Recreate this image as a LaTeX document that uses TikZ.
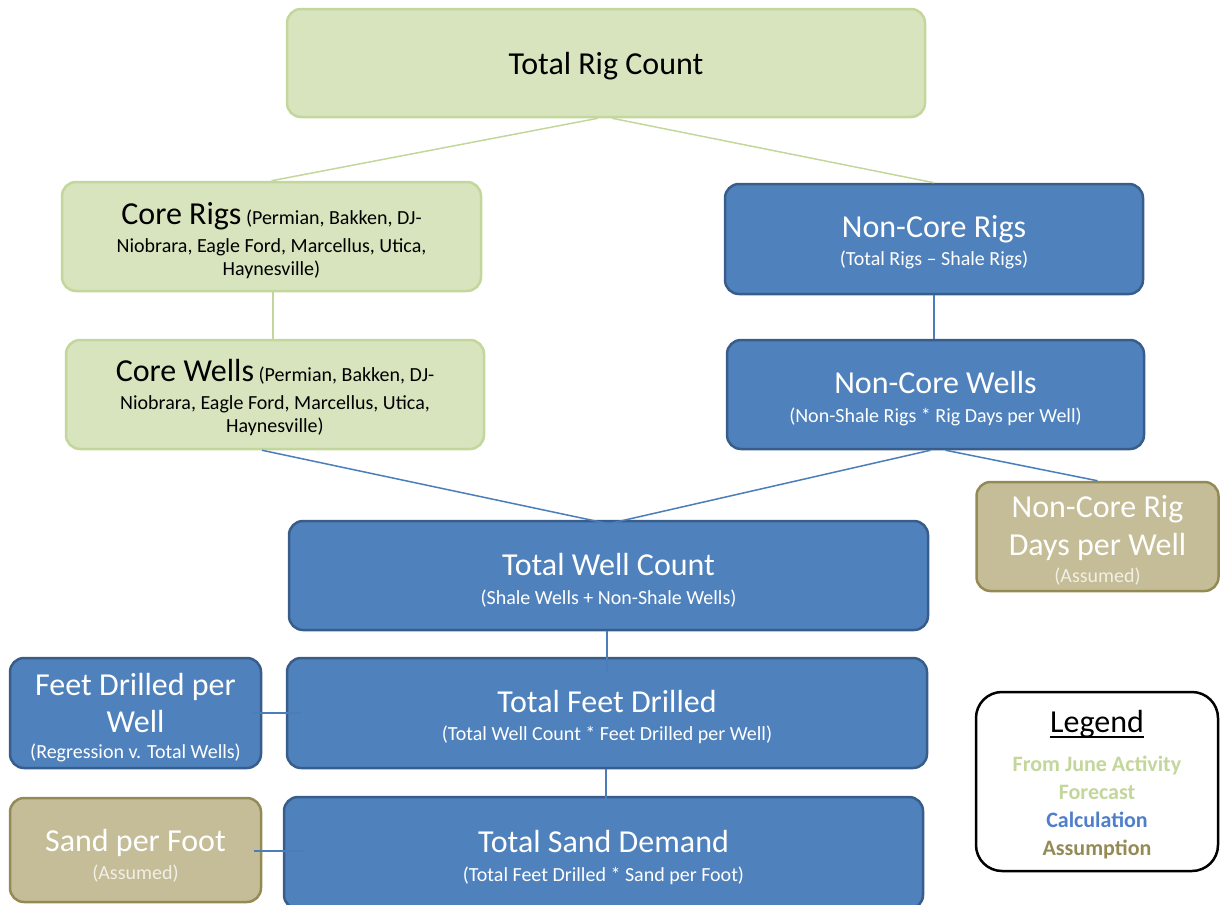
\documentclass[tikz,border=0pt]{standalone}
\usepackage{fontspec}
\setmainfont{Carlito}
\definecolor{gfill}{HTML}{D7E4BD}
\definecolor{gline}{HTML}{C3D69B}
\definecolor{bfill}{HTML}{4F81BD}
\definecolor{bline}{HTML}{385D8A}
\definecolor{tfill}{HTML}{C4BD97}
\definecolor{tline}{HTML}{948A54}
\definecolor{conb}{HTML}{4A7EBB}
\definecolor{subtan}{HTML}{F2EFE6}
\definecolor{legblue}{HTML}{4F7FCB}
\newcommand\titletxt{\fontsize{32}{38}\selectfont}
\newcommand\subtxt{\fontsize{20}{24}\selectfont}
\newcommand\coretxt{\fontsize{20}{23}\selectfont}
\newcommand\legtxt{\fontsize{22}{28}\selectfont\bfseries}
\newcommand\tstrut[1]{\rule{0pt}{#1pt}}
\newcommand\thickul[1]{\leavevmode\setbox0\hbox{#1}\rlap{\rule[-6pt]{\wd0}{2.4pt}}\box0}
\begin{document}
\begin{tikzpicture}[x=1pt,y=-1pt,
  box/.style={rectangle, rounded corners=14pt, line width=2.5pt, align=center, inner sep=2pt, font=\subtxt},
  gbox/.style={box, fill=gfill, draw=gline, text=black, font=\coretxt},
  bbox/.style={box, fill=bfill, draw=bline, text=white},
  tbox/.style={box, fill=tfill, draw=tline, text=white},
  legbox/.style={box, fill=white, draw=black, rounded corners=26pt, line width=2.5pt, text=black, font=\legtxt},
  gcon/.style={draw=gline, line width=1.5pt},
  bcon/.style={draw=conb, line width=1.5pt}]
\useasboundingbox (0,0) rectangle (1221,905);

\node[gbox, minimum width=638pt, minimum height=108pt] (trc) at (606,63) {\tstrut{28}\titletxt Total Rig Count};

\node[gbox, minimum width=419pt, minimum height=109pt] (crigs) at (271.5,236.5)
  {\tstrut{31}{\titletxt Core Rigs} (Permian, Bakken, DJ-\\[5pt]Niobrara, Eagle Ford, Marcellus, Utica,\\Haynesville)};
\node[bbox, minimum width=418pt, minimum height=110pt] (ncrigs) at (934,239)
  {\tstrut{29}{\titletxt Non-Core Rigs}\\[4pt](Total Rigs -- Shale Rigs)};

\node[gbox, minimum width=418pt, minimum height=109pt] (cwells) at (275,394.5)
  {\tstrut{29}{\titletxt Core Wells} (Permian, Bakken, DJ-\\[5pt]Niobrara, Eagle Ford, Marcellus, Utica,\\Haynesville)};
\node[bbox, minimum width=417pt, minimum height=109pt] (ncwells) at (935.5,394.5)
  {\tstrut{30}{\titletxt Non-Core Wells}\\[5pt](Non-Shale Rigs * Rig Days per Well)};

\node[tbox, minimum width=242pt, minimum height=109pt] (ncdays) at (1097.5,536.5)
  {\tstrut{30}{\titletxt Non-Core Rig}\\[10pt]{\titletxt Days per Well}\\[3pt]{\color{subtan}(Assumed)}};

\node[bbox, minimum width=639pt, minimum height=109pt] (twc) at (608.5,575.5)
  {\tstrut{31}{\titletxt Total Well Count}\\[5pt](Shale Wells + Non-Shale Wells)};

\node[bbox, minimum width=251pt, minimum height=110pt] (fdpw) at (135.5,713)
  {\tstrut{32}{\titletxt Feet Drilled per}\\[9pt]{\titletxt Well}\\[2pt](Regression v. Total Wells)};
\node[bbox, minimum width=640pt, minimum height=110pt] (tfd) at (607,713)
  {\tstrut{31}{\titletxt Total Feet Drilled}\\[4pt](Total Well Count * Feet Drilled per Well)};

\node[tbox, minimum width=251pt, minimum height=104pt] (spf) at (135.5,850)
  {\tstrut{33}{\titletxt Sand per Foot}\\[4pt]{\color{subtan}(Assumed)}};
\node[bbox, minimum width=639pt, minimum height=112pt] (tsd) at (603.5,853)
  {\tstrut{31}{\titletxt Total Sand Demand}\\[5pt](Total Feet Drilled * Sand per Foot)};

\node[legbox, minimum width=242pt, minimum height=179pt] (leg) at (1097,781.5)
  {\tstrut{28}{\titletxt\mdseries \thickul{Legend}}\\[11pt]{\color{gline}From June Activity}\\{\color{gline}Forecast}\\{\color{legblue}Calculation}\\{\color{tline}Assumption}};

% connectors
\draw[gcon] ([xshift=-8pt]trc.south) -- (crigs.north);
\draw[gcon] ([xshift=6pt]trc.south) -- (ncrigs.north);
\draw[gcon] ([xshift=1.5pt]crigs.south) -- ([xshift=1.5pt]crigs.south |- cwells.north);
\draw[bcon] (ncrigs.south) -- (ncrigs.south |- ncwells.north);
\coordinate (join) at ([yshift=-4pt]twc.north);
\draw[bcon] ([xshift=-13pt]cwells.south) -- (join);
\draw[bcon] ([xshift=-5pt]ncwells.south) -- (join);
\draw[bcon] ([xshift=10pt]ncwells.south) -- (ncdays.north);
\draw[bcon, shorten >=-15pt] ([xshift=-1.5pt]twc.south) -- ([xshift=-1.5pt]twc.south |- tfd.north);
\draw[bcon, shorten >=-3pt] ([xshift=-1pt]tfd.south) -- ([xshift=-1pt]tfd.south |- tsd.north);
\draw[bcon, shorten <=-9pt, shorten >=-16pt] (fdpw.east) -- (tfd.west);
\draw[bcon, shorten <=-8pt, shorten >=-21pt] ([yshift=-1pt]spf.east) -- ([yshift=-1pt]spf.east -| tsd.west);
\end{tikzpicture}
\end{document}
